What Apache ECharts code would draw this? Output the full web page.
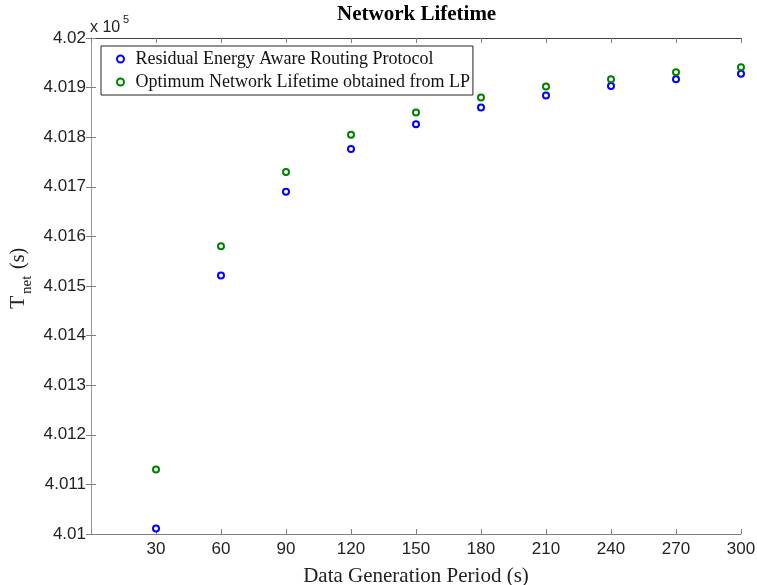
<!DOCTYPE html>
<html>
<head>
<meta charset="utf-8">
<script src="https://cdn.jsdelivr.net/npm/echarts@6/dist/echarts.min.js"></script>
<style>
html,body{margin:0;padding:0;background:#fff;}
#chart{width:757px;height:585px;}
</style>
</head>
<body>
<div id="chart"></div>
<script>
// Data (values in seconds)
var periods = [30, 60, 90, 120, 150, 180, 210, 240, 270, 300];
var residualAware = [401011, 401521, 401690, 401776, 401826, 401860, 401884, 401903, 401917, 401928];
var optimumLP = [401130, 401580, 401730, 401805, 401850, 401880, 401902, 401917, 401931, 401941];
var xTicks = [30, 60, 90, 120, 150, 180, 210, 240, 270, 300];
var yMin = 401000, yMax = 402000, yStep = 100;

var seriesNames = ['Residual Energy Aware Routing Protocol', 'Optimum Network Lifetime obtained from LP'];

function pairs(xs, ys) { return xs.map(function (x, i) { return [x, ys[i]]; }); }

var serif = '"Liberation Serif", "Times New Roman", serif';
var sans = '"Liberation Sans", Arial, sans-serif';

var chart = echarts.init(document.getElementById('chart'));
chart.setOption({
  animation: false,
  backgroundColor: '#fff',
  title: {
    text: 'Network Lifetime',
    left: 337, top: 4, padding: 0,
    textStyle: { fontFamily: serif, fontWeight: 'bold', fontSize: 21, color: '#000' }
  },
  legend: {
    left: 101, top: 46, orient: 'vertical',
    backgroundColor: '#fff', borderColor: '#222', borderWidth: 1,
    padding: [4, 3, 4, 15], itemGap: 5, itemWidth: 20, itemHeight: 7,
    textStyle: { fontFamily: serif, fontSize: 18, color: '#111' },
    data: seriesNames
  },
  grid: { left: 91, right: 16, top: 38, bottom: 51, containLabel: false, outerBoundsMode: 'none' },
  xAxis: [{
    type: 'value', min: 0, max: 300, interval: 30,
    axisLine: { lineStyle: { color: '#808080', width: 1 } },
    axisTick: { inside: true, length: 5, lineStyle: { color: '#808080' } },
    axisLabel: { fontFamily: sans, fontSize: 17, color: '#222', margin: 7,
      formatter: function (v) { return xTicks.indexOf(v) >= 0 ? String(v) : ''; } },
    splitLine: { show: false },
    name: 'Data Generation Period (s)', nameLocation: 'middle', nameGap: 32,
    nameTextStyle: { fontFamily: serif, fontSize: 21, color: '#222' }
  }, {
    type: 'value', position: 'top', min: 0, max: 300, interval: 30,
    axisLine: { lineStyle: { color: '#404040', width: 1 } },
    axisTick: { inside: true, length: 5, lineStyle: { color: '#808080' } },
    axisLabel: { show: false }, splitLine: { show: false }
  }],
  yAxis: [{
    type: 'value', min: yMin, max: yMax, interval: yStep,
    axisLine: { show: true, lineStyle: { color: '#808080', width: 1 } },
    axisTick: { show: true, inside: true, length: 5, lineStyle: { color: '#808080' } },
    axisLabel: { fontFamily: sans, fontSize: 17, color: '#222', margin: 5,
      formatter: function (v) { return String(parseFloat((v / 1e5).toFixed(3))); } },
    splitLine: { show: false }
  }, {
    type: 'value', position: 'right', min: yMin, max: yMax, interval: yStep,
    axisLine: { show: true, lineStyle: { color: '#9a9a9a', width: 1 } },
    axisTick: { show: true, inside: true, length: 5, lineStyle: { color: '#808080' } },
    axisLabel: { show: false }, splitLine: { show: false }
  }],
  graphic: [
    { type: 'text', left: 90, top: 20, style: { text: 'x 10', font: '16px ' + sans, fill: '#222' } },
    { type: 'text', left: 123, top: 14, style: { text: '5', font: '11px ' + sans, fill: '#222' } },
    { type: 'group', x: 29, y: 309, rotation: Math.PI / 2, children: [
      { type: 'text', x: 0, y: 0, style: { text: 'T', font: '22px ' + serif, fill: '#222', textVerticalAlign: 'bottom' } },
      { type: 'text', x: 15, y: 6, style: { text: 'net', font: '15px ' + serif, fill: '#222', textVerticalAlign: 'bottom' } },
      { type: 'text', x: 40, y: 0, style: { text: '(s)', font: '20px ' + serif, fill: '#222', textVerticalAlign: 'bottom' } }
    ]}
  ],
  series: [{
    name: seriesNames[0], type: 'scatter', symbol: 'emptyCircle', symbolSize: 6,
    itemStyle: { color: '#0000ff', borderColor: '#0000ff', borderWidth: 2.5, opacity: 1 },
    data: pairs(periods, residualAware)
  }, {
    name: seriesNames[1], type: 'scatter', symbol: 'emptyCircle', symbolSize: 6,
    itemStyle: { color: '#008000', borderColor: '#008000', borderWidth: 2.5, opacity: 1 },
    data: pairs(periods, optimumLP)
  }]
});
</script>
</body>
</html>
